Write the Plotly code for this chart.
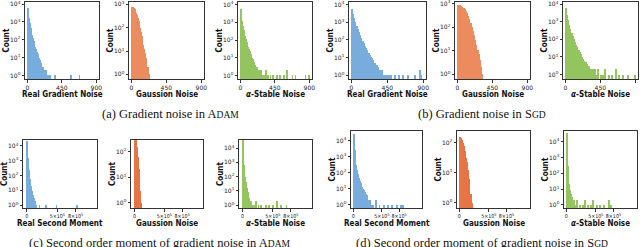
import plotly.graph_objects as go

W, H = 640, 247

# ---------------- data (bin centres / counts) ----------------
# (a) ADAM gradient noise, bin width 10
a1_x = [5,15,25,35,45,55,65,75,85,95,105,115,125,135,145,155,165,175,185,195,205,215,225,235,245,255,265,275,295,360,565,680]
a1_y = [6300,3200,1600,850,480,300,190,125,85,58,42,30,22,16,12,9,7,5,4,3,3,2,2,1,2,1,1,1,1,1,1,1]
a2_x = [5,15,25,35,45,55,65,75,85,95,105,115,125,135,145,155,165,175,185,195,205,215,225,235]
a2_y = [800,790,760,700,620,530,440,350,270,200,140,95,65,44,29,19,12,8,5,3,2,2,1,1]
a3_x = [5,15,25,35,45,55,65,75,85,95,105,115,125,135,145,155,165,175,185,195,205,215,225,235,245,255,265,
        285,305,335,365,395,425,475,515,565,610,680,720,850,895]
a3_y = [5400,5000,1200,600,380,250,170,115,80,58,42,31,23,17,13,10,8,6,5,4,3,3,2,2,2,1,2,
        1,1,2,1,1,1,1,1,1,2,1,1,1,1]
# (b) SGD gradient noise, bin width 15
b1_x = [7.5,22.5,37.5,52.5,67.5,82.5,97.5,112.5,127.5,142.5,157.5,172.5,187.5,202.5,217.5,232.5,247.5,262.5,277.5,292.5,
        307.5,322.5,337.5,352.5,367.5,382.5,397.5,412.5,427.5,442.5,472.5,502.5,547.5,592.5,652.5,712.5,802.5,862.5,877.5]
b1_y = [6000,3000,1700,1000,650,420,280,190,130,90,65,48,35,26,19,14,11,9,7,5,
        4,4,3,2,2,2,1,1,1,1,1,1,1,1,1,1,1,2,1]
b2_x = [7.5,22.5,37.5,52.5,67.5,82.5,97.5,112.5,127.5,142.5,157.5,172.5,187.5,202.5,217.5,232.5,247.5,262.5,277.5,292.5,307.5,322.5]
b2_y = [900,890,860,820,760,680,590,490,390,300,220,155,105,70,45,29,18,11,7,4,2,1]
b3_x = [7.5,22.5,37.5,52.5,67.5,82.5,97.5,112.5,127.5,142.5,157.5,172.5,187.5,202.5,217.5,232.5,247.5,262.5,277.5,292.5,
        307.5,322.5,337.5,352.5,367.5,382.5,397.5,427.5,457.5,487.5,517.5,562.5,607.5,652.5,697.5,742.5,802.5,892.5]
b3_y = [6000,2500,1200,650,380,240,150,100,70,50,36,26,19,14,10,8,6,5,4,3,
        3,2,2,2,1,2,1,2,1,1,2,1,1,2,1,1,1,1]
# (c) ADAM second moment
c1_x = [7500,22500,37500,52500,67500,82500,97500,112500,127500,142500,157500,210000,322500,487500,817500]
c1_y = [22000,1500,250,60,20,9,5,3,2,2,1,1,1,1,1]
c2_x = [2500,7500,12500,17500,22500,27500,32500,37500,42500,47500,52500,57500,62500,67500,72500,77500,82500,87500,92500,97500,102500,107500,112500]
c2_y = [399,388,366,337,301,262,221,181,145,113,85,63,45,31,21,14,9,5,3,2,1,1,1]
c3_x = [7500,22500,37500,52500,67500,82500,97500,112500,127500,142500,157500,187500,217500,262500,307500,382500,442500,502500,562500,637500,727500]
c3_y = [35000,600,100,40,15,8,5,3,2,2,1,1,2,1,1,1,1,1,2,1,1]
# (d) SGD second moment
d1_x = [7500,22500,37500,52500,67500,82500,97500,112500,127500,142500,157500,172500,187500,202500,217500,232500,247500,262500,277500,292500,
        322500,352500,397500,457500,532500,607500,682500,757500,832500,862500]
d1_y = [25000,2500,900,300,150,80,45,30,22,17,13,10,8,6,5,4,3,2,2,2,
        1,1,2,1,1,1,1,1,1,1]
d2_x = [5000,15000,25000,35000,45000,55000,65000,75000,85000,95000,105000,115000,125000,135000,145000,155000,165000,175000,185000,195000,205000,215000]
d2_y = [160,156,148,138,125,110,95,80,66,53,41,32,23,17,12,8,6,4,2,2,1,1]
d3_x = [7500,22500,37500,52500,67500,82500,97500,112500,127500,157500,187500,232500,277500,322500,367500,412500,457500,517500,577500,637500,727500,757500]
d3_y = [38000,300,60,20,9,5,3,2,2,1,2,1,1,2,1,1,2,1,1,1,2,1]

row1_ticks = [0, 450, 900]
row1_ticktext = ["0", "450", "900"]
row2_ticks = [0, 500000, 800000]
row2_ticktext = ["0", "5×10<sup>5</sup>", "8×10<sup>5</sup>"]

x_labels = ["Real Gradient Noise", "Gaussion Noise", "<i>α</i>-Stable Noise"]
x_labels2 = ["Real Second Moment", "Gaussion Noise", "<i>α</i>-Stable Noise"]
captions = [
    "(a) Gradient noise in A<span style='font-size:9.5px'>DAM</span>",
    "(b) Gradient noise in S<span style='font-size:9.5px'>GD</span>",
    "(c) Second order moment of gradient noise in A<span style='font-size:9.5px'>DAM</span>",
    "(d) Second order moment of gradient noise in S<span style='font-size:9.5px'>GD</span>",
]

BLUE = "#5b9bd5"
ORANGE1 = "#e8743b"
ORANGE2 = "#e2561c"
GREEN = "#7cb83c"

# ---------------- layout of panels (pixels) ----------------
panels = [
    (a1_x, a1_y, 10, BLUE, x_labels[0], (25, 99, 2, 79), [-0.2, 4.12], [-30, 935], 4, 1),
    (a2_x, a2_y, 10, ORANGE1, x_labels[1], (129, 204, 2, 79), [-0.2, 3.1], [-30, 935], 3, 1),
    (a3_x, a3_y, 10, GREEN, x_labels[2], (238, 312, 2, 79), [-0.2, 4.15], [-30, 935], 4, 1),
    (b1_x, b1_y, 15, BLUE, x_labels[0], (349, 426, 2, 79), [-0.22, 4.15], [-30, 935], 4, 1),
    (b2_x, b2_y, 15, ORANGE1, x_labels[1], (455, 530, 2, 79), [-0.2, 3.08], [-30, 935], 3, 1),
    (b3_x, b3_y, 15, GREEN, x_labels[2], (563, 638, 2, 79), [-0.25, 4.12], [-30, 935], 4, 1),
    (c1_x, c1_y, 15000, BLUE, x_labels2[0], (23, 97, 140, 208), [-0.2, 4.4], [-60000, 1150000], 4, 2),
    (c2_x, c2_y, 5000, ORANGE2, x_labels2[1], (131, 203, 140, 208), [-0.2, 2.45], [-60000, 1150000], 2, 2),
    (c3_x, c3_y, 15000, GREEN, x_labels2[2], (239, 312, 140, 208), [-0.2, 4.56], [-60000, 1150000], 4, 2),
    (d1_x, d1_y, 15000, BLUE, x_labels2[0], (351, 422, 131, 208), [-0.2, 4.6], [-40000, 1200000], 4, 2),
    (d2_x, d2_y, 10000, ORANGE2, x_labels2[1], (457, 530, 131, 208), [-0.17, 2.39], [-40000, 1200000], 2, 2),
    (d3_x, d3_y, 15000, GREEN, x_labels2[2], (564, 637, 131, 208), [-0.2, 4.68], [-40000, 1200000], 4, 2),
]

fig = go.Figure()
annotations = []
TICKFONT = dict(family="DejaVu Sans", size=6, color="#222")
TICKFONT2 = dict(family="DejaVu Sans Condensed, DejaVu Sans", size=5.3, color="#222")
LABFONT = dict(family="DejaVu Sans Condensed, DejaVu Sans", size=8, color="#111")

for i, (xs, ys, bw, col, lab, (l, r, t, b), yr, xr, ntop, row) in enumerate(panels):
    n = i + 1
    xa = "x" if n == 1 else f"x{n}"
    ya = "y" if n == 1 else f"y{n}"
    fig.add_trace(go.Bar(x=xs, y=ys, width=bw, marker=dict(color=col, line=dict(width=0)),
                         opacity=0.82, xaxis=xa, yaxis=ya, showlegend=False, hoverinfo="skip"))
    xkey = "xaxis" if n == 1 else f"xaxis{n}"
    ykey = "yaxis" if n == 1 else f"yaxis{n}"
    tv = [10 ** k for k in range(ntop + 1)]
    tt = [f"10<sup>{k}</sup>" for k in range(ntop + 1)]
    if row == 1:
        xtv, xtt, xf = row1_ticks, row1_ticktext, TICKFONT
    else:
        xtv, xtt, xf = row2_ticks, row2_ticktext, TICKFONT2
    common = dict(showline=True, mirror=True, linecolor="#333", linewidth=1, showgrid=False, zeroline=False,
                  ticks="outside", ticklen=2.5, tickwidth=1, tickcolor="#333", automargin=False, tickangle=0)
    fig.update_layout({
        xkey: dict(domain=[l / W, r / W], anchor=ya, range=xr, tickvals=xtv, ticktext=xtt, tickfont=xf, **common),
        ykey: dict(domain=[1 - b / H, 1 - t / H], anchor=xa, type="log", range=yr, tickvals=tv, ticktext=tt,
                   tickfont=TICKFONT, **common),
    })
    annotations.append(dict(text=f"<b>{lab}</b>", x=(l + r) / 2 / W, y=1 - (b + 15) / H, xref="paper", yref="paper",
                            xanchor="center", yanchor="middle", showarrow=False, font=LABFONT))
    annotations.append(dict(text="<b>Count</b>", x=(l - 19) / W, y=1 - (t + b) / 2 / H, xref="paper", yref="paper",
                            xanchor="center", yanchor="middle", textangle=-90, showarrow=False, font=LABFONT))

capfont = dict(family="Liberation Serif", size=12.5, color="#111")
cap_pos = [(170, 114), (482, 114), (160, 243), (482, 243)]
for txt, (cx, cy) in zip(captions, cap_pos):
    annotations.append(dict(text=txt, x=cx / W, y=1 - cy / H, xref="paper", yref="paper",
                            xanchor="center", yanchor="middle", showarrow=False, font=capfont))

fig.update_layout(width=W, height=H, margin=dict(l=0, r=0, t=0, b=0, autoexpand=False), paper_bgcolor="white",
                  plot_bgcolor="white", bargap=0, annotations=annotations, hovermode=False)

fig.write_html("out.html", config={"displayModeBar": False},
               post_script="document.body.style.margin='0';document.body.style.overflow='hidden';")
